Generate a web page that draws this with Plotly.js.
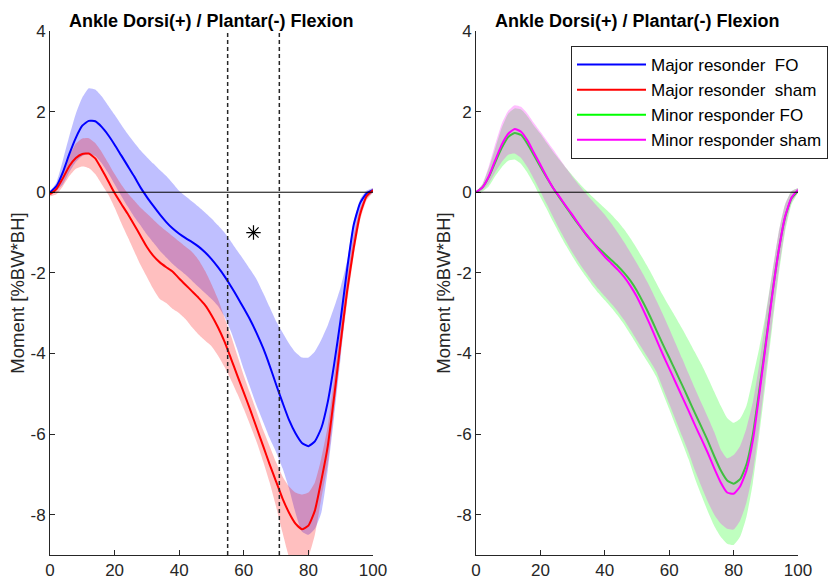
<!DOCTYPE html>
<html>
<head>
<meta charset="utf-8">
<script src="https://cdn.plot.ly/plotly-3.0.1.min.js"></script>
<style>html,body{margin:0;padding:0;background:#fff;}#chart{width:837px;height:581px;}</style>
</head>
<body>
<div id="chart"></div>
<script>
// Gait cycle (%)
const gaitPct = [0,2,4,6,8,10,12,14,16,18,20,22,24,26,28,30,32,34,36,38,40,42,44,46,48,50,52,54,56,58,60,62,64,66,68,70,72,74,76,78,80,82,84,86,88,90,92,94,96,98,100];

// Major responder FO (blue)
const majorFO_mean  = [0,0.15,0.5,0.95,1.35,1.65,1.77,1.76,1.62,1.42,1.18,0.92,0.66,0.4,0.12,-0.12,-0.34,-0.55,-0.74,-0.9,-1.03,-1.14,-1.24,-1.35,-1.49,-1.66,-1.86,-2.08,-2.33,-2.6,-2.88,-3.17,-3.5,-3.87,-4.3,-4.77,-5.22,-5.65,-5.98,-6.22,-6.3,-6.18,-5.85,-5.2,-4.25,-3.15,-1.9,-0.82,-0.27,-0.03,0.05];
const majorFO_upper = [0,0.25,0.8,1.4,1.95,2.35,2.58,2.55,2.38,2.15,1.92,1.68,1.45,1.24,1.04,0.87,0.71,0.55,0.4,0.22,0.03,-0.1,-0.23,-0.36,-0.5,-0.65,-0.82,-1.0,-1.22,-1.45,-1.68,-1.92,-2.17,-2.5,-2.85,-3.2,-3.48,-3.75,-3.97,-4.1,-4.1,-3.95,-3.66,-3.3,-2.85,-2.35,-1.7,-0.75,-0.18,0.04,0.1];
const majorFO_lower = [0,0.05,0.2,0.5,0.75,0.9,0.95,0.9,0.72,0.48,0.2,-0.08,-0.35,-0.6,-0.82,-1.05,-1.25,-1.45,-1.62,-1.78,-1.92,-2.05,-2.2,-2.35,-2.5,-2.65,-2.82,-3.08,-3.45,-3.9,-4.4,-4.85,-5.3,-5.7,-6.1,-6.45,-6.85,-7.35,-7.95,-8.42,-8.5,-8.35,-7.95,-6.9,-5.55,-4.1,-2.6,-1.45,-0.6,-0.15,0];

// Major responder sham (red)
const majorSham_mean  = [-0.05,0.08,0.35,0.65,0.85,0.95,0.96,0.84,0.57,0.28,-0.02,-0.28,-0.53,-0.8,-1.08,-1.36,-1.58,-1.74,-1.86,-1.97,-2.14,-2.3,-2.46,-2.62,-2.8,-3.05,-3.35,-3.7,-4.12,-4.55,-4.97,-5.4,-5.85,-6.3,-6.75,-7.18,-7.6,-7.95,-8.22,-8.36,-8.27,-7.9,-7.15,-6.3,-5.05,-3.72,-2.45,-1.4,-0.55,-0.1,0.05];
const majorSham_upper = [0,0.15,0.5,0.9,1.2,1.33,1.34,1.22,1.0,0.73,0.45,0.2,-0.02,-0.2,-0.38,-0.53,-0.68,-0.83,-0.96,-1.09,-1.22,-1.35,-1.48,-1.68,-1.95,-2.28,-2.65,-3.1,-3.55,-4.05,-4.55,-5.0,-5.45,-5.9,-6.3,-6.7,-7.05,-7.3,-7.45,-7.5,-7.45,-7.2,-6.6,-5.8,-4.6,-3.3,-2.1,-1.1,-0.4,-0.05,0.1];
const majorSham_lower = [-0.1,-0.05,0.15,0.4,0.58,0.64,0.6,0.45,0.2,-0.05,-0.38,-0.75,-1.1,-1.45,-1.8,-2.1,-2.4,-2.65,-2.75,-2.9,-3.0,-3.15,-3.35,-3.53,-3.68,-3.82,-4.05,-4.33,-4.65,-5.0,-5.38,-5.78,-6.2,-6.68,-7.2,-7.8,-8.45,-9.05,-9.35,-9.3,-9.05,-8.5,-7.6,-6.75,-5.4,-4.0,-2.75,-1.6,-0.7,-0.2,0];

// Minor responder FO (green)
const minorFO_mean  = [0,0.12,0.38,0.75,1.1,1.37,1.47,1.42,1.2,0.92,0.63,0.36,0.1,-0.14,-0.37,-0.6,-0.82,-1.03,-1.22,-1.38,-1.53,-1.68,-1.83,-2.0,-2.2,-2.45,-2.75,-3.07,-3.42,-3.77,-4.1,-4.44,-4.78,-5.13,-5.48,-5.82,-6.17,-6.55,-6.9,-7.15,-7.23,-7.12,-6.75,-6.0,-4.9,-3.72,-2.52,-1.45,-0.62,-0.15,0.03];
const minorFO_upper = [0,0.2,0.6,1.1,1.6,1.95,2.08,2.05,1.88,1.65,1.45,1.22,1.0,0.8,0.6,0.41,0.23,0.06,-0.1,-0.25,-0.4,-0.55,-0.72,-0.92,-1.15,-1.4,-1.67,-1.95,-2.25,-2.55,-2.83,-3.1,-3.38,-3.67,-3.97,-4.27,-4.6,-4.95,-5.3,-5.6,-5.72,-5.62,-5.3,-4.6,-3.85,-3.0,-2.0,-1.0,-0.3,0.03,0.1];
const minorFO_lower = [0,0.02,0.15,0.4,0.62,0.78,0.81,0.7,0.48,0.2,-0.12,-0.42,-0.74,-1.04,-1.33,-1.6,-1.85,-2.08,-2.3,-2.5,-2.68,-2.86,-3.06,-3.28,-3.53,-3.79,-4.05,-4.3,-4.58,-4.98,-5.38,-5.8,-6.2,-6.62,-7.1,-7.52,-7.92,-8.28,-8.55,-8.72,-8.75,-8.55,-8.05,-7.2,-6.0,-4.7,-3.35,-2.05,-0.98,-0.3,0];

// Minor responder sham (magenta)
const minorSham_mean  = [0,0.12,0.4,0.8,1.18,1.45,1.57,1.5,1.28,0.98,0.68,0.38,0.1,-0.12,-0.35,-0.57,-0.8,-1.02,-1.22,-1.42,-1.6,-1.76,-1.92,-2.1,-2.33,-2.6,-2.93,-3.28,-3.65,-4.02,-4.37,-4.72,-5.07,-5.42,-5.78,-6.12,-6.47,-6.85,-7.2,-7.45,-7.48,-7.3,-6.9,-6.15,-5.0,-3.78,-2.55,-1.45,-0.6,-0.13,0.06];
const minorSham_upper = [0,0.2,0.65,1.2,1.7,2.02,2.16,2.12,1.95,1.72,1.5,1.28,1.06,0.83,0.6,0.38,0.18,-0.02,-0.2,-0.38,-0.56,-0.77,-1.0,-1.24,-1.5,-1.77,-2.05,-2.35,-2.68,-3.02,-3.38,-3.75,-4.12,-4.5,-4.87,-5.23,-5.58,-5.95,-6.38,-6.6,-6.52,-6.3,-5.85,-5.2,-4.25,-3.1,-2.0,-1.0,-0.3,0.02,0.1];
const minorSham_lower = [0,0.05,0.22,0.5,0.75,0.93,0.96,0.85,0.62,0.33,0.02,-0.3,-0.62,-0.93,-1.22,-1.5,-1.75,-1.98,-2.2,-2.4,-2.58,-2.76,-2.95,-3.17,-3.42,-3.68,-3.93,-4.18,-4.45,-4.85,-5.25,-5.65,-6.05,-6.45,-6.9,-7.3,-7.68,-8.0,-8.22,-8.35,-8.37,-8.15,-7.7,-6.95,-5.8,-4.5,-3.2,-1.95,-0.9,-0.25,0];

// Legend labels
const seriesNames = ['Major resonder  FO','Major resonder  sham','Minor responder FO','Minor responder sham'];
// Significant window (left panel)
const sigBounds = [55, 71];
const sigMark = {x: 63, y: -1};

const xTicks = [0,20,40,60,80,100];
const yTicks = [-8,-6,-4,-2,0,2,4];
const panelTitle = 'Ankle Dorsi(+) / Plantar(-) Flexion';
const yLabel = 'Moment [%BW*BH]';

function band(upper, lower, color, xa, ya) {
  return {
    x: gaitPct.concat(gaitPct.slice().reverse()),
    y: upper.concat(lower.slice().reverse()),
    fill: 'toself', fillcolor: color, mode: 'lines',
    line: {width: 0, color: color, shape: 'spline', smoothing: 0.5},
    hoverinfo: 'skip', showlegend: false, xaxis: xa, yaxis: ya
  };
}
function meanLine(y, color, name, xa, ya) {
  return {
    x: gaitPct, y: y, mode: 'lines', name: name,
    line: {color: color, width: 2, shape: 'spline', smoothing: 0.5},
    xaxis: xa, yaxis: ya
  };
}

const traces = [
  band(majorFO_upper, majorFO_lower, 'rgba(0,0,255,0.25)', 'x', 'y'),
  band(majorSham_upper, majorSham_lower, 'rgba(255,0,0,0.25)', 'x', 'y'),
  meanLine(majorFO_mean, '#0000ff', seriesNames[0], 'x', 'y'),
  meanLine(majorSham_mean, '#ff0000', seriesNames[1], 'x', 'y'),
  band(minorFO_upper, minorFO_lower, 'rgba(0,255,0,0.25)', 'x2', 'y2'),
  meanLine(minorFO_mean, '#00ff00', seriesNames[2], 'x2', 'y2'),
  band(minorSham_upper, minorSham_lower, 'rgba(255,0,255,0.25)', 'x2', 'y2'),
  meanLine(minorSham_mean, '#ff00ff', seriesNames[3], 'x2', 'y2'),
  {x: [sigMark.x], y: [sigMark.y], mode: 'markers', showlegend: false,
   marker: {symbol: 'asterisk-open', size: 12, color: '#000', line: {color: '#000', width: 1.2}},
   xaxis: 'x', yaxis: 'y', hoverinfo: 'skip'}
];

const fontFam = '"Liberation Sans", Arial, sans-serif';
const txtCol = '#262626';
function xax(domain) {
  return {domain: domain, range: [0,100], tickvals: xTicks, ticktext: xTicks.map(String),
    ticks: 'inside', ticklen: 5, tickcolor: txtCol, showline: true, linecolor: txtCol, linewidth: 1,
    showgrid: false, zeroline: false, mirror: false, tickfont: {size: 17, color: txtCol, family: fontFam}};
}
function yax(anchor) {
  return {domain: [1-555/581, 1-31/581], range: [-9,4], tickvals: yTicks, ticktext: yTicks.map(String),
    ticks: 'inside', ticklen: 5, tickcolor: txtCol, showline: true, linecolor: txtCol, linewidth: 1,
    showgrid: false, zeroline: false, mirror: false, anchor: anchor,
    tickfont: {size: 17, color: txtCol, family: fontFam},
    title: {text: yLabel, font: {size: 18.5, color: txtCol, family: fontFam}, standoff: 0}};
}

const shapes = [];
[['x','y'],['x2','y2']].forEach(function(p){
  shapes.push({type: 'line', xref: p[0], yref: p[1], x0: 0, x1: 100, y0: 0, y1: 0,
    line: {color: '#000', width: 1}, layer: 'above'});
});
sigBounds.forEach(function(v){
  shapes.push({type: 'line', xref: 'x', yref: 'y domain', x0: v, x1: v, y0: 0, y1: 1,
    line: {color: txtCol, width: 1.5, dash: '4px,3px'}, layer: 'above'});
});

const layout = {
  width: 837, height: 581, margin: {l: 0, r: 0, t: 0, b: 0},
  paper_bgcolor: '#fff', plot_bgcolor: '#fff',
  font: {family: fontFam, color: txtCol},
  xaxis: Object.assign(xax([50/837, 373/837]), {anchor: 'y'}),
  yaxis: yax('x'),
  xaxis2: Object.assign(xax([476/837, 798/837]), {anchor: 'y2'}),
  yaxis2: yax('x2'),
  showlegend: true,
  legend: {x: 571/837, y: 1-46/581, xanchor: 'left', yanchor: 'top',
    bgcolor: '#fff', bordercolor: txtCol, borderwidth: 1, itemwidth: 69,
    font: {size: 17, color: '#000', family: fontFam}, tracegroupgap: 0},
  shapes: shapes,
  annotations: [
    {text: '<b>' + panelTitle + '</b>', xref: 'paper', yref: 'paper', x: (50+373)/2/837, y: 1-21/581,
     xanchor: 'center', yanchor: 'middle', showarrow: false, font: {size: 18, color: '#000', family: fontFam}},
    {text: '<b>' + panelTitle + '</b>', xref: 'paper', yref: 'paper', x: (476+798)/2/837, y: 1-21/581,
     xanchor: 'center', yanchor: 'middle', showarrow: false, font: {size: 18, color: '#000', family: fontFam}}
  ]
};

Plotly.newPlot('chart', traces, layout, {staticPlot: true, displayModeBar: false});
</script>
</body>
</html>
